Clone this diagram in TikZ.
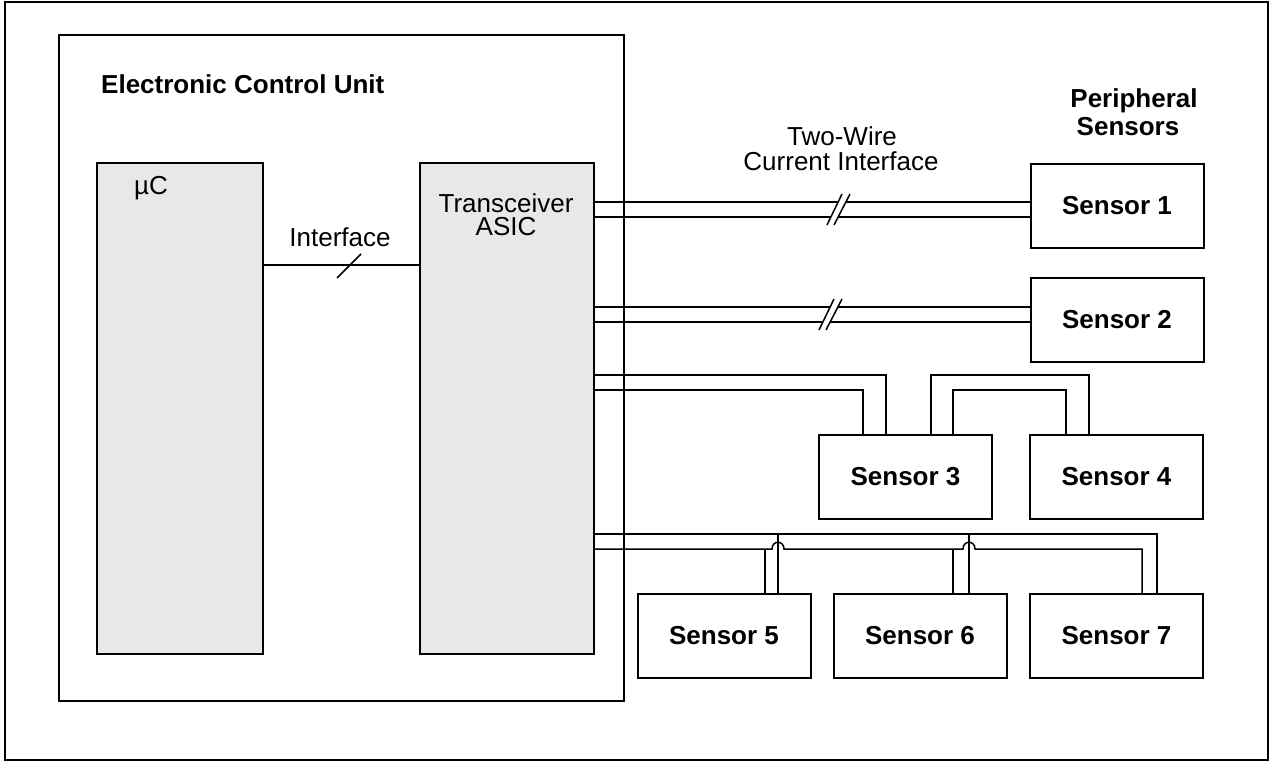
\documentclass[tikz,border=0pt]{standalone}
\usepackage{fontspec}
\setmainfont{Liberation Sans}
\usetikzlibrary{calc}
\begin{document}
\begin{tikzpicture}[x=1pt,y=-1pt,
  box/.style={draw, line width=2pt, inner sep=0pt, outer sep=0pt},
  chip/.style={box, fill=black!9, minimum width=172pt, minimum height=491pt},
  sbox/.style={box, fill=white, minimum width=173pt, minimum height=84pt,
    font=\bfseries\fontsize{26}{30}\selectfont},
  wire/.style={line width=1.5pt},
  lbl/.style={font=\fontsize{26}{30}\selectfont, inner sep=0pt, anchor=base},
  ttl/.style={font=\bfseries\fontsize{26}{30}\selectfont, inner sep=0pt, anchor=base},
  slash/.style={line width=1.5pt}]
\useasboundingbox (0,0) rectangle (1271,762);
% outer frame
\draw[line width=1.5pt] (5,2) rectangle (1268,760);

% control unit and its two chips
\node[box, minimum width=565pt, minimum height=666pt] (ecu) at (341.5,368) {};
\node[ttl, anchor=base west] (ecut) at (101,94) {Electronic Control Unit};
\node[chip, minimum width=166pt] (uc) at (180,408.5) {};
\node[chip, minimum width=174pt] (asic) at (507,408.5) {};
\node[lbl] (uct) at (151,195) {µC};
\node[lbl] (asict1) at (506,212) {Transceiver};
\node[lbl] (asict2) at (506,236) {ASIC};

% bus between controller and transceiver
\draw[wire] (uc.east |- 0,265) -- (asic.west |- 0,265);
\draw[slash] (337,278) -- (361,254);
\node[lbl] (ift) at (340,246) {Interface};

% peripheral sensors
\node[ttl] (pst1) at (1134,108) {Peripheral};
\node[ttl] (pst2) at (1128,136) {Sensors};
\node[sbox] (s1) at (1117,206) {Sensor 1};
\node[sbox] (s2) at (1117,320) {Sensor 2};
\node[sbox] (s3) at (905.5,477) {Sensor 3};
\node[sbox] (s4) at (1116.5,477) {Sensor 4};
\node[sbox] (s5) at (724,636) {Sensor 5};
\node[sbox] (s6) at (920,636) {Sensor 6};
\node[sbox] (s7) at (1116.5,636) {Sensor 7};

\node[lbl] (twt1) at (842,146) {Two-Wire};
\node[lbl] (twt2) at (841,171) {Current Interface};

% point-to-point links to sensors 1 and 2
\draw[wire] (asic.east |- 0,202) -- (s1.west |- 0,202);
\draw[wire] (asic.east |- 0,217) -- (s1.west |- 0,217);
\fill[white] (827,225) -- (842,194) -- (850,194) -- (834,225) -- cycle;
\draw[slash] (827,225) -- (842,194);
\draw[slash] (834,225) -- (850,194);

\draw[wire] (asic.east |- 0,307) -- (s2.west |- 0,307);
\draw[wire] (asic.east |- 0,322) -- (s2.west |- 0,322);
\fill[white] (819,330) -- (834,299) -- (842,299) -- (826,330) -- cycle;
\draw[slash] (819,330) -- (834,299);
\draw[slash] (826,330) -- (842,299);

% daisy chain: sensor 3 then sensor 4
\draw[wire] (asic.east |- 0,375) -- (886,375) -- (s3.north -| 886,0);
\draw[wire] (asic.east |- 0,390) -- (863,390) -- (s3.north -| 863,0);
\draw[wire] (s3.north -| 931,0) -- (931,375) -- (1089,375) -- (s4.north -| 1089,0);
\draw[wire] (s3.north -| 953,0) -- (953,390) -- (1066,390) -- (s4.north -| 1066,0);

% parallel bus: sensors 5, 6 and 7
\draw[wire] (asic.east |- 0,534) -- (1157,534) -- (s7.north -| 1157,0);
\draw[wire] (asic.east |- 0,549) -- (772,549)
  .. controls (772,540) and (784,540) .. (784,549) -- (963,549)
  .. controls (963,540) and (975,540) .. (975,549) -- (1142,549)
  -- (s7.north -| 1142,0);
\draw[wire] (765,549) -- (s5.north -| 765,0);
\draw[wire] (778,534) -- (s5.north -| 778,0);
\draw[wire] (953,549) -- (s6.north -| 953,0);
\draw[wire] (969,534) -- (s6.north -| 969,0);
\end{tikzpicture}
\end{document}
